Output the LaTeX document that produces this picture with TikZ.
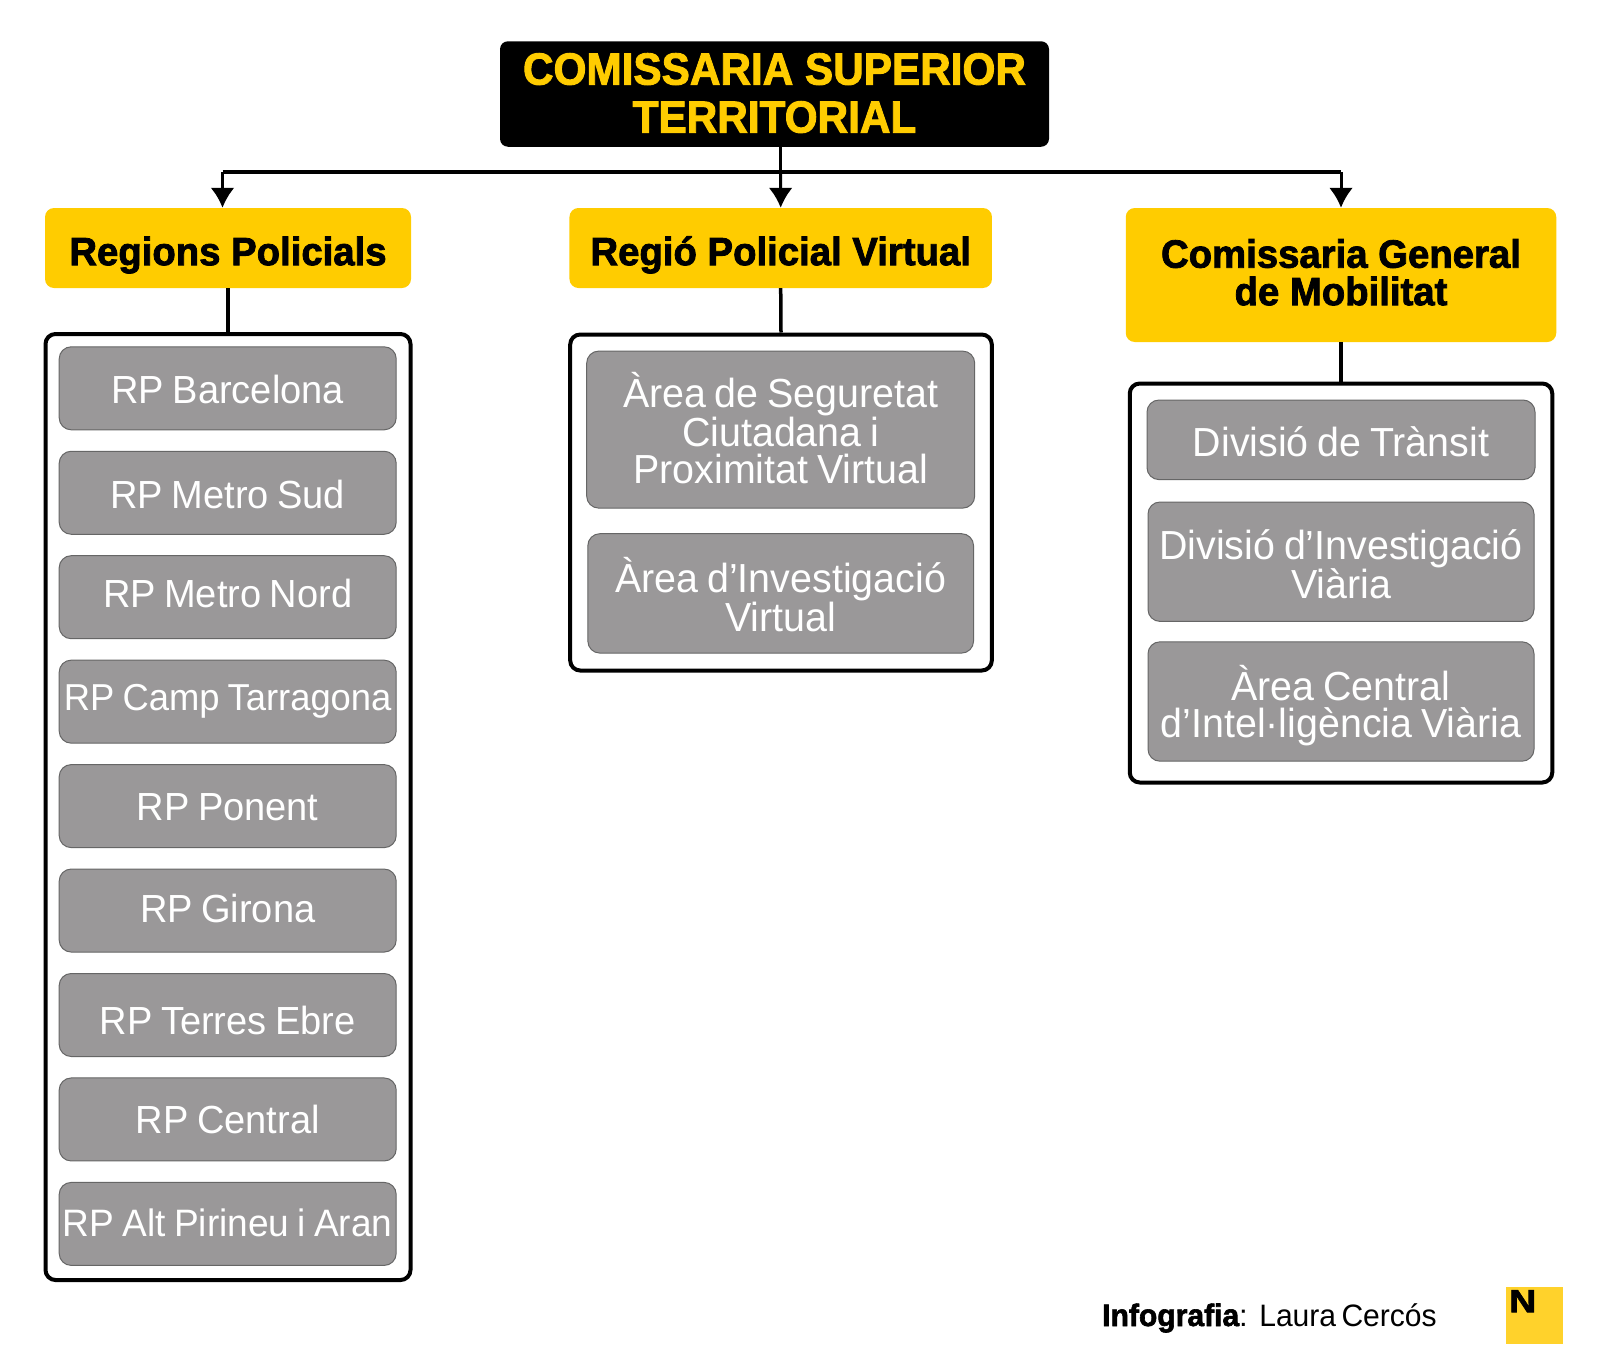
\documentclass[tikz,border=0pt]{standalone}
\usepackage{fontspec}
\setmainfont{Liberation Sans}
\newfontfamily\heavyfont[FakeStretch=0.97,BoldFeatures={FakeBold=2}]{Liberation Sans}
\newfontfamily\titlefont[FakeStretch=0.94,BoldFeatures={FakeBold=2}]{Liberation Sans}
\newfontfamily\lightfont[FakeStretch=0.97,WordSpace=0.8]{Liberation Sans}
\newcommand\smalllabel{\fontsize{37.5}{37}\selectfont}
\usetikzlibrary{arrows.meta}
\definecolor{nyellow}{HTML}{FFCC00}
\definecolor{logoyellow}{HTML}{FFD22B}
\definecolor{boxgray}{HTML}{9A9899}
\tikzset{
    basey/.style={text height=#1, text depth=-#1},
    topbox/.style={fill=black, text=nyellow, rounded corners=8pt, inner sep=0pt, align=center,
        font=\fontsize{45}{48}\selectfont\titlefont\bfseries},
    headbox/.style={fill=nyellow, text=black, rounded corners=9pt, inner sep=0pt, align=center,
        font=\fontsize{39.5}{37.5}\selectfont\heavyfont\bfseries},
    listbox/.style={draw=black, line width=4pt, fill=white, rounded corners=10pt, inner sep=0pt},
    itembox/.style={draw=black!60, line width=1pt, fill=boxgray, text=white, rounded corners=12pt,
        inner sep=0pt, align=center, font=\fontsize{39.2}{37}\selectfont\lightfont},
    bigitem/.style={itembox, font=\fontsize{40.6}{37}\selectfont\lightfont},
    link/.style={draw=black, line width=3.5pt},
    bus/.style={draw=black, line width=3pt, -{Latex[length=20pt,width=24pt]}},
}
\begin{document}
\begin{tikzpicture}[x=1pt, y=-1pt]
    \useasboundingbox (0, 0) rectangle (1600, 1349);

    \node[topbox, minimum width=549pt, minimum height=105.5pt, basey=77.2pt] (top) at (774.5, 94)
        {COMISSARIA SUPERIOR\\TERRITORIAL};

    \node[headbox, minimum width=366pt, minimum height=80pt, basey=34.4pt] (regions) at (228, 248) {Regions Policials};
    \node[headbox, minimum width=422.5pt, minimum height=80pt, basey=34.4pt] (virtual) at (780.7, 248) {Regió Policial Virtual};
    \node[headbox, minimum width=430.5pt, minimum height=134pt, basey=60.4pt] (mobilitat) at (1341, 275) {Comissaria General\\de Mobilitat};

    \node[listbox, minimum width=365pt, minimum height=946pt] (regionsList) at (228, 807) {};
    \node[listbox, minimum width=421.6pt, minimum height=336pt] (virtualList) at (781, 502.5) {};
    \node[listbox, minimum width=422.5pt, minimum height=399pt] (mobilitatList) at (1341, 583) {};

    % regions
    \foreach \name/\off/\label [count=\i from 0] in {barcelona/30.9/RP Barcelona, metroSud/31.9/RP Metro Sud,
        metroNord/19.7/RP Metro Nord, camp/17.6/{\smalllabel RP Camp Tarragona}, ponent/28.2/RP Ponent, girona/24.7/RP Girona,
        terres/38.9/RP Terres Ebre, central/28.3/RP Central, alt/24.2/{\fontsize{38.2}{37}\selectfont RP Alt Pirineu i Aran}}
        \node[itembox, minimum width=337pt, minimum height=83pt, basey=\off pt] (\name) at (227.7, 388.3 + 104.45 * \i) {\label};

    \node[bigitem, minimum width=388pt, minimum height=157pt, basey=108pt] (seguretat) at (780.7, 429.6) {Àrea de Seguretat\\Ciutadana i\\Proximitat Virtual};
    \node[bigitem, minimum width=385.7pt, minimum height=119.4pt, basey=75.6pt] (investigacio) at (780.7, 593.4) {Àrea d’Investigació\\Virtual};

    \node[bigitem, minimum width=388pt, minimum height=79.6pt, basey=33.9pt] (transit) at (1341, 439.8) {Divisió de Trànsit};
    \node[bigitem, minimum width=386pt, minimum height=119.4pt, basey=74.1pt] (viaria) at (1341, 561.7) {Divisió d’Investigació\\Viària};
    \node[bigitem, minimum width=386pt, minimum height=119.4pt, basey=71.5pt] (intel) at (1341, 701.5) {Àrea Central\\d’Intel·ligència Viària};

    \coordinate (busL) at (222.5, 172);
    \coordinate (busC) at (780.6, 172);
    \coordinate (busR) at (1341, 172);

    \draw[link] (top.south -| busC) -- (busC);
    \draw[link, line width=4pt] (busL) -- (busR);
    \draw[bus] (busL) -- (busL |- regions.north);
    \draw[bus] (busC) -- (virtual.north);
    \draw[bus] (busR) -- (mobilitat.north);

    \draw[link] (regions.south) -- (regionsList.north);
    \draw[link] (virtual.south) -- (virtualList.north);
    \draw[link] (mobilitat.south) -- (mobilitatList.north);

    % credit
    \node[anchor=base west, inner sep=0pt, font=\fontsize{31}{31}\selectfont] (credit) at (1102, 1326)
        {{\heavyfont\bfseries Infografia}: \lightfont Laura Cercós};
    \node[fill=logoyellow, minimum width=57pt, minimum height=57pt, inner sep=0pt] (logo) at (1534, 1315) {};
    \node[anchor=north west, inner sep=0pt, font=\fontsize{32}{32}\selectfont\heavyfont\bfseries] (logoN) at (1509, 1290) {\scalebox{1.2}[1]{N}};
\end{tikzpicture}
\end{document}
